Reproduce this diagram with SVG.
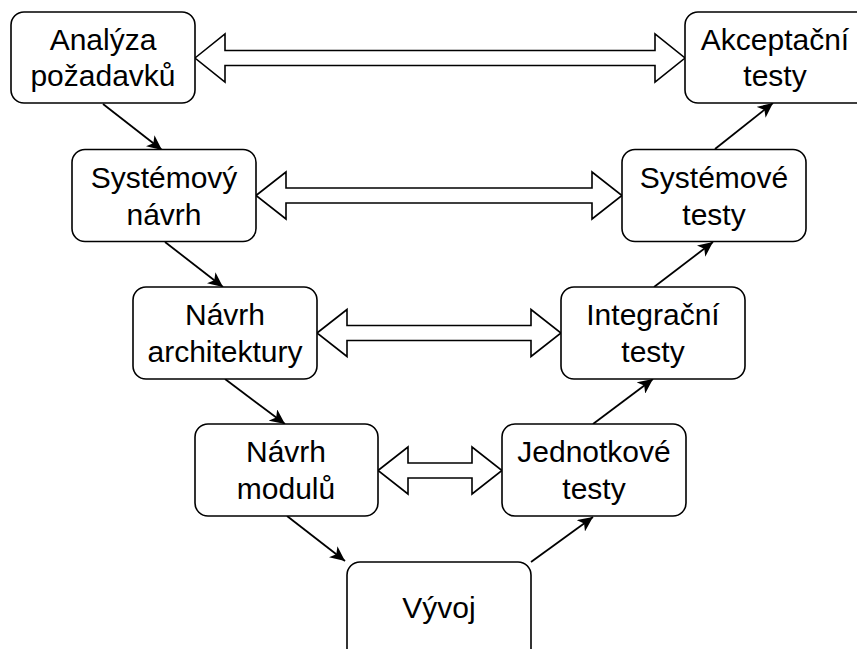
<svg xmlns="http://www.w3.org/2000/svg" width="857" height="649" viewBox="0 0 857 649">
  <style>
    .box { fill: #ffffff; stroke: #000000; stroke-width: 1.6; }
    .lbl { font-family: "Liberation Sans", Arial, sans-serif; font-size: 30px; fill: #000000; text-anchor: middle; }
    .flow { stroke: #000000; stroke-width: 1.8; fill: none; marker-end: url(#head); }
    .dbl { fill: #ffffff; stroke: #000000; stroke-width: 1.6; stroke-linejoin: miter; }
  </style>
  <defs>
    <marker id="head" markerUnits="userSpaceOnUse" markerWidth="16" markerHeight="14" viewBox="0 0 16 14" refX="15" refY="7" orient="auto">
      <path d="M0,0 L15,7 L0,14 L4,7 Z" fill="#000000"/>
    </marker>
  </defs>
  <rect width="857" height="649" fill="#ffffff"/>

  <!-- verification links (double arrows) -->
  <g id="links">
    <polygon class="dbl" points="195,58 225,34 225,50.5 655,50.5 655,34 685,58 655,82 655,65.5 225,65.5 225,82"/>
    <polygon class="dbl" points="256,195.5 286,172 286,188 592,188 592,172 622,195.5 592,219 592,203 286,203 286,219"/>
    <polygon class="dbl" points="317,333 347,309.5 347,325.5 531,325.5 531,309.5 561,333 531,356.5 531,340.5 347,340.5 347,356.5"/>
    <polygon class="dbl" points="378,470.5 408,447 408,463 472,463 472,447 502,470.5 472,494 472,478 408,478 408,494"/>
  </g>

  <!-- flow connectors -->
  <g id="connectors">
    <line class="flow" x1="103" y1="104" x2="162" y2="150"/>
    <line class="flow" x1="165" y1="242" x2="223" y2="287"/>
    <line class="flow" x1="225" y1="379" x2="285" y2="424"/>
    <line class="flow" x1="287" y1="516" x2="345" y2="561"/>
    <line class="flow" x1="531" y1="562" x2="593" y2="517"/>
    <line class="flow" x1="593" y1="424" x2="653" y2="379"/>
    <line class="flow" x1="654" y1="287" x2="713" y2="242"/>
    <line class="flow" x1="715" y1="149" x2="773" y2="103"/>
  </g>

  <g id="analyza">
    <rect class="box" x="11" y="12" width="184" height="91" rx="13"/>
    <text class="lbl" x="103" y="50">Analýza</text>
    <text class="lbl" x="103" y="86">požadavků</text>
  </g>
  <g id="akceptacni">
    <rect class="box" x="685" y="12" width="184" height="91" rx="13"/>
    <text class="lbl" x="775" y="50">Akceptační</text>
    <text class="lbl" x="775" y="86">testy</text>
  </g>
  <g id="systemovy-navrh">
    <rect class="box" x="72" y="149.5" width="184" height="92" rx="13"/>
    <text class="lbl" x="164" y="188">Systémový</text>
    <text class="lbl" x="164" y="225">návrh</text>
  </g>
  <g id="systemove-testy">
    <rect class="box" x="622" y="149.5" width="184" height="92" rx="13"/>
    <text class="lbl" x="714" y="188">Systémové</text>
    <text class="lbl" x="714" y="225">testy</text>
  </g>
  <g id="navrh-architektury">
    <rect class="box" x="133" y="287" width="184" height="92" rx="13"/>
    <text class="lbl" x="225" y="325">Návrh</text>
    <text class="lbl" x="225" y="362">architektury</text>
  </g>
  <g id="integracni">
    <rect class="box" x="561" y="287" width="184" height="92" rx="13"/>
    <text class="lbl" x="653" y="325">Integrační</text>
    <text class="lbl" x="653" y="362">testy</text>
  </g>
  <g id="navrh-modulu">
    <rect class="box" x="195" y="424" width="183" height="92" rx="13"/>
    <text class="lbl" x="286" y="462">Návrh</text>
    <text class="lbl" x="286" y="499">modulů</text>
  </g>
  <g id="jednotkove">
    <rect class="box" x="502" y="424" width="184" height="92" rx="13"/>
    <text class="lbl" x="594" y="462">Jednotkové</text>
    <text class="lbl" x="594" y="499">testy</text>
  </g>
  <g id="vyvoj">
    <rect class="box" x="347" y="562" width="184" height="100" rx="13"/>
    <text class="lbl" x="439" y="618">Vývoj</text>
  </g>
</svg>
